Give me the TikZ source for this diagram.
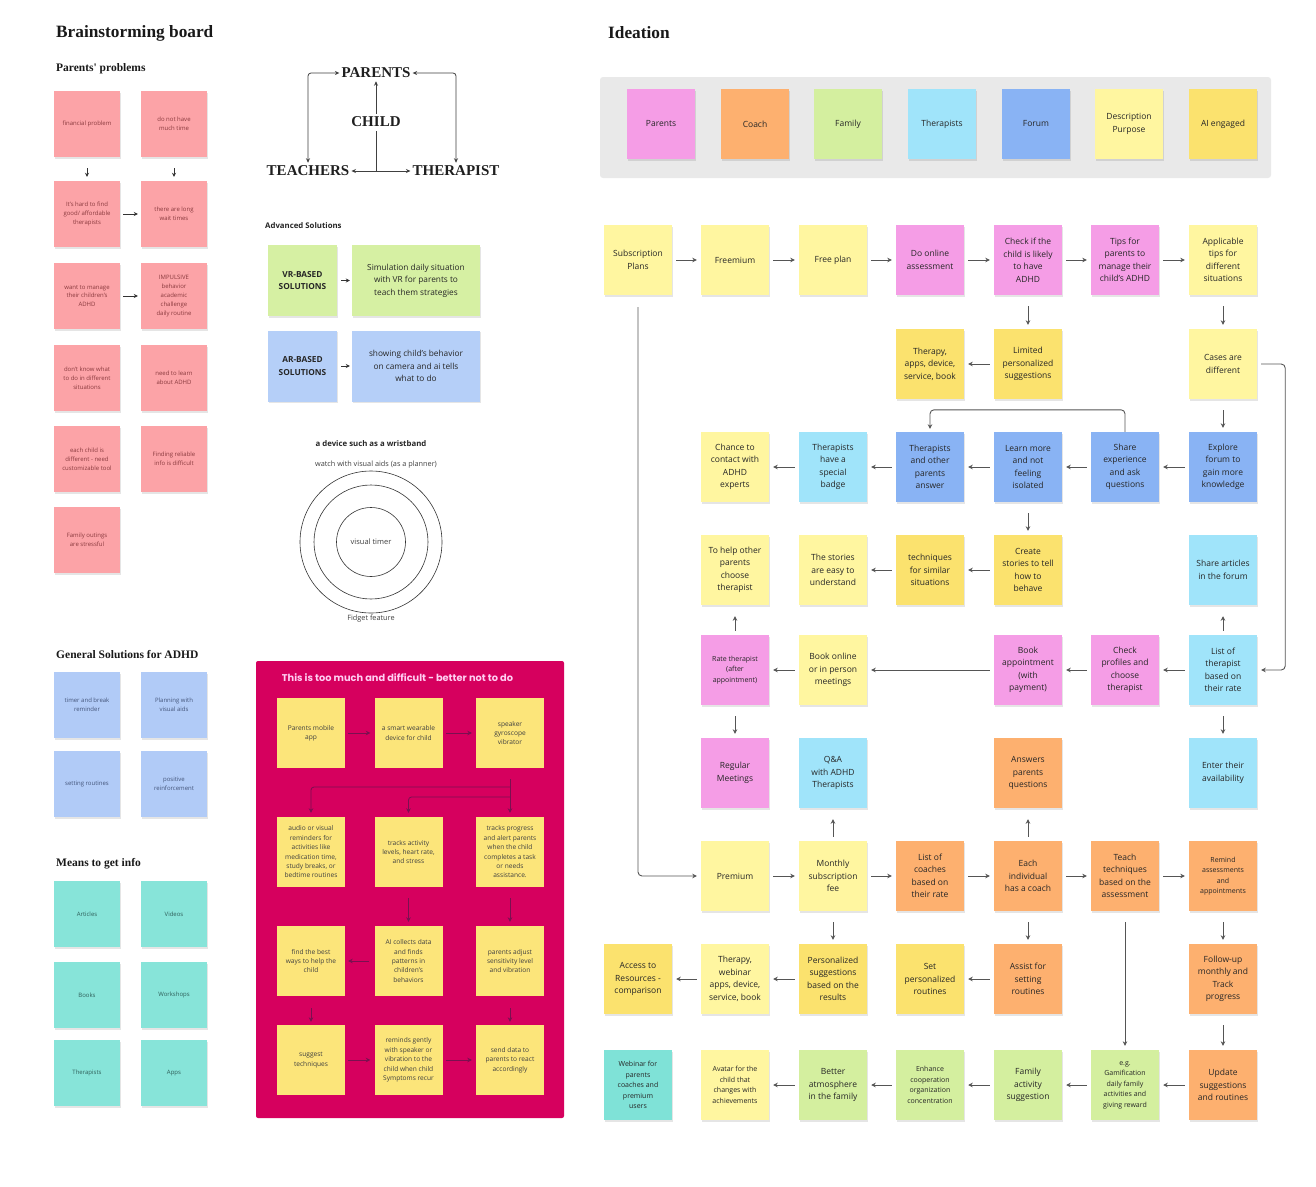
\documentclass[tikz,border=0pt]{standalone}
\usepackage{fontspec}
\setmainfont{Open Sans}
\newfontfamily\serifhead{Liberation Serif}
\newfontfamily\popfont{Poppins}
\usetikzlibrary{arrows.meta,shadows}

\definecolor{cPK}{HTML}{F59DE6}
\definecolor{cLY}{HTML}{FFF6A0}
\definecolor{cYE}{HTML}{FBE26E}
\definecolor{cOR}{HTML}{FDB06F}
\definecolor{cGR}{HTML}{D4EF9F}
\definecolor{cLB}{HTML}{A0E4FA}
\definecolor{cBL}{HTML}{89B3F4}
\definecolor{cTE}{HTML}{7FE2D7}
\definecolor{cGray}{HTML}{E9E9E9}
\definecolor{lPK}{HTML}{FCA3A7}
\definecolor{lPKt}{HTML}{8A3A3E}
\definecolor{lBL}{HTML}{B1CBF7}
\definecolor{lBLt}{HTML}{44557A}
\definecolor{lTE}{HTML}{87E4D9}
\definecolor{lTEt}{HTML}{2F5F5A}
\definecolor{vGR}{HTML}{D6F0A3}
\definecolor{vBL}{HTML}{B5CFF8}
\definecolor{redbox}{HTML}{D6005E}
\definecolor{rYE}{HTML}{FCE57A}
\definecolor{rArr}{HTML}{7A1050}
\definecolor{titlePK}{HTML}{FFCFF2}
\definecolor{arrgray}{HTML}{555555}

\tikzset{
  shad/.style={general shadow={fill=black, opacity=0.10, shadow xshift=0.6pt, shadow yshift=-1.6pt}},
  st/.style={shad, minimum width=68, minimum height=70, inner sep=1pt, align=center, font=\fontsize{8.5}{12.5}\selectfont, text=black!85},
  sm/.style={font=\fontsize{7}{10.5}\selectfont},
  ls/.style={shad, minimum width=66, minimum height=66, inner sep=1pt, align=center, font=\fontsize{6}{8.8}\selectfont},
  lpink/.style={ls, fill=lPK, text=lPKt},
  lblue/.style={ls, fill=lBL, text=lBLt},
  lteal/.style={ls, fill=lTE, text=lTEt},
  rs/.style={minimum width=68, minimum height=70, inner sep=1pt, align=center, font=\fontsize{6.6}{9.4}\selectfont, fill=rYE, text=black!75},
  harr/.style={-{Stealth[length=4.5pt,width=4.5pt]}, draw=arrgray, line width=0.9pt, shorten <=4pt, shorten >=4pt},
  darr/.style={harr, shorten <=11pt, shorten >=4pt},
  uarr/.style={harr, shorten <=4pt, shorten >=11pt},
  larr/.style={-{Stealth[length=4pt,width=4pt]}, draw=black!80, line width=0.8pt, shorten <=3pt, shorten >=3pt},
  marr/.style={draw=black!75, line width=0.8pt},
  mtip/.style={-{Stealth[length=4.5pt,width=4pt]}},
  rarr/.style={-{Stealth[length=4.5pt,width=4.5pt]}, draw=rArr, line width=0.8pt, shorten <=3pt, shorten >=4pt},
  head/.style={anchor=west, inner sep=0pt, font=\serifhead\bfseries\fontsize{17.3}{19}\selectfont, text=black!90},
  subhead/.style={anchor=west, inner sep=0pt, font=\serifhead\bfseries\fontsize{11.5}{13}\selectfont, text=black!90},
  role/.style={inner sep=2pt, font=\serifhead\bfseries\fontsize{15}{16}\selectfont, text=black!88},
  ring/.style={circle, draw=black!80, line width=0.6pt, inner sep=0pt},
  plain/.style={inner sep=0pt, text=black!75},
}

\begin{document}
\begin{tikzpicture}[x=1pt,y=-1pt]
\useasboundingbox (0,0) rectangle (1316,1186);
\fill[white] (0,0) rectangle (1316,1186);

% ================= LEFT: Brainstorming =================
\node[head] (hBrain) at (56,33) {Brainstorming board};
\node[subhead] (hProb) at (56,69) {Parents' problems};

\node[lpink] (pA1) at (87,124) {financial problem};
\node[lpink] (pB1) at (174,124) {do not have\\much time};
\node[lpink] (pA2) at (87,214) {It's hard to find\\good/ affordable\\therapists};
\node[lpink] (pB2) at (174,214) {there are long\\wait times};
\node[lpink] (pA3) at (87,296) {want to manage\\their children's\\ADHD};
\node[lpink] (pB3) at (174,296) {IMPULSIVE\\behavior\\academic\\challenge\\daily routine};
\node[lpink] (pA4) at (87,378) {don't know what\\to do in different\\situations};
\node[lpink] (pB4) at (174,378) {need to learn\\about ADHD};
\node[lpink] (pA5) at (87,459) {each child is\\different - need\\customizable tool};
\node[lpink] (pB5) at (174,459) {Finding reliable\\info is difficult};
\node[lpink] (pA6) at (87,540) {Family outings\\are stressful};

\draw[larr, shorten <=11pt, shorten >=4pt] (pA1) -- (pA2);
\draw[larr, shorten <=11pt, shorten >=4pt] (pB1) -- (pB2);
\draw[larr] (pA2) -- (pB2);
\draw[larr] (pA3) -- (pB3);

\node[subhead] (hGen) at (56,655) {General Solutions for ADHD};
\node[lblue] (gA1) at (87,705) {timer and break\\reminder};
\node[lblue] (gB1) at (174,705) {Planning with\\visual aids};
\node[lblue] (gA2) at (87,784) {setting routines};
\node[lblue] (gB2) at (174,784) {positive\\reinforcement};

\node[subhead] (hMeans) at (56,864) {Means to get info};
\node[lteal] (mA1) at (87,914) {Articles};
\node[lteal] (mB1) at (174,914) {Videos};
\node[lteal] (mA2) at (87,995) {Books};
\node[lteal] (mB2) at (174,995) {Workshops};
\node[lteal] (mA3) at (87,1073) {Therapists};
\node[lteal] (mB3) at (174,1073) {Apps};

% ================= MIDDLE: roles =================
\node[role] (parents) at (376,73) {PARENTS};
\node[role] (child) at (376,122) {CHILD};
\node[role] (teachers) at (308,171) {TEACHERS};
\node[role] (therapist) at (456,171) {THERAPIST};
\coordinate (junc) at (376,171);
\draw[marr, mtip, shorten <=1pt, shorten >=1pt] (child.north) -- (parents.south);
\draw[marr, shorten <=2pt] (child.south) -- (junc);
\draw[marr, mtip] (junc) -- (teachers.east);
\draw[marr, mtip] (junc) -- (therapist.west);
\draw[marr, {Stealth[length=4.5pt,width=4pt]}-{Stealth[length=4.5pt,width=4pt]}, rounded corners=3pt, shorten >=1pt] (parents.west) -| (teachers.north);
\draw[marr, {Stealth[length=4.5pt,width=4pt]}-{Stealth[length=4.5pt,width=4pt]}, rounded corners=3pt, shorten >=1pt] (parents.east) -| (therapist.north);

% Advanced solutions
\node[anchor=west, inner sep=0pt, font=\bfseries\fontsize{7.8}{9}\selectfont, text=black!85] (hAdv) at (265,226) {Advanced Solutions};
\node[st, fill=vGR, minimum width=69, minimum height=71, font=\bfseries\fontsize{8.3}{12.5}\selectfont] (vr) at (302.5,280.5) {VR-BASED\\SOLUTIONS};
\node[st, fill=vGR, minimum width=128, minimum height=71, font=\fontsize{8.3}{12.5}\selectfont] (vrsim) at (416,280.5) {Simulation daily situation\\with VR for parents to\\teach them strategies};
\node[st, fill=vBL, minimum width=69, minimum height=71, font=\bfseries\fontsize{8.3}{12.5}\selectfont] (ar) at (302.5,366) {AR-BASED\\SOLUTIONS};
\node[st, fill=vBL, minimum width=128, minimum height=71, font=\fontsize{8.3}{12.5}\selectfont] (arsim) at (416,366) {showing child's behavior\\on camera and ai tells\\what to do};
\draw[larr, shorten <=4pt, shorten >=2pt] (vr) -- (vrsim);
\draw[larr, shorten <=4pt, shorten >=2pt] (ar) -- (arsim);

% Wristband
\node[plain, font=\bfseries\fontsize{7.8}{9}\selectfont, text=black!85] (hDev) at (371,444) {a device such as a wristband};
\node[plain, font=\fontsize{7.3}{9}\selectfont] (watch) at (376,465) {watch with visual aids (as a planner)};
\node[ring, minimum size=142] (ring1) at (371,542) {};
\node[ring, minimum size=114] (ring2) at (371,542) {};
\node[ring, minimum size=69, font=\fontsize{7.5}{9}\selectfont, text=black!75] (ring3) at (371,542) {visual timer};
\node[plain, font=\fontsize{7.3}{9}\selectfont] (fidget) at (371,619) {Fidget feature};

% Red box
\node[fill=redbox, rounded corners=2pt, minimum width=308, minimum height=457, inner sep=0pt] (redbox) at (410,889.5) {};
\node[inner sep=0pt, font=\popfont\bfseries\fontsize{9.8}{11}\selectfont, text=titlePK] (rtitle) at (397.5,678) {This is too much and difficult - better not to do};
\node[rs] (r11) at (311,733) {Parents mobile\\app};
\node[rs] (r12) at (408.5,733) {a smart wearable\\device for child};
\node[rs] (r13) at (510,733) {speaker\\gyroscope\\vibrator};
\node[rs] (r21) at (311,852) {audio or visual\\reminders for\\activities like\\medication time,\\study breaks, or\\bedtime routines};
\node[rs] (r22) at (408.5,852) {tracks activity\\levels, heart rate,\\and stress};
\node[rs] (r23) at (510,852) {tracks progress\\and alert parents\\when the child\\completes a task\\or needs\\assistance.};
\node[rs] (r31) at (311,961) {find the best\\ways to help the\\child};
\node[rs] (r32) at (408.5,961) {AI collects data\\and finds\\patterns in\\children's\\behaviors};
\node[rs] (r33) at (510,961) {parents adjust\\sensitivity level\\and vibration};
\node[rs] (r41) at (311,1060) {suggest\\techniques};
\node[rs] (r42) at (408.5,1060) {reminds gently\\with speaker or\\vibration to the\\child when child\\Symptoms recur};
\node[rs] (r43) at (510,1060) {send data to\\parents to react\\accordingly};
\coordinate (rb1) at (510,787);
\coordinate (rb2) at (510,797);
\draw[rarr] (r11) -- (r12);
\draw[rarr] (r12) -- (r13);
\draw[rarr, shorten <=11pt] (r13) -- (r23);
\draw[rarr, rounded corners=3pt, shorten <=0pt] (rb1) -| (r21.north);
\draw[rarr, rounded corners=3pt, shorten <=0pt] (rb2) -| (r22.north);
\draw[rarr, shorten <=11pt] (r22) -- (r32);
\draw[rarr, shorten <=11pt] (r23) -- (r33);
\draw[rarr, shorten <=5pt, shorten >=3pt] (r32) -- (r31);
\draw[rarr, shorten <=12pt, shorten >=3pt] (r31) -- (r41);
\draw[rarr, shorten <=12pt, shorten >=3pt] (r33) -- (r43);
\draw[rarr] (r41) -- (r42);
\draw[rarr] (r42) -- (r43);

% ================= RIGHT: Ideation =================
\node[head] (hIdea) at (608,33) {Ideation};
\node[fill=cGray, rounded corners=3pt, minimum width=671, minimum height=101, inner sep=0pt] (hdrbox) at (935.5,127.5) {};
\node[st, fill=cPK] (kParents) at (661,124) {Parents};
\node[st, fill=cOR] (kCoach) at (755,124) {Coach};
\node[st, fill=cGR] (kFamily) at (848,124) {Family};
\node[st, fill=cLB] (kTher) at (942,124) {Therapists};
\node[st, fill=cBL] (kForum) at (1036,124) {Forum};
\node[st, fill=cLY] (kDesc) at (1129,124) {Description\\Purpose};
\node[st, fill=cYE] (kAI) at (1223,124) {AI engaged};

% Row 1
\node[st, fill=cLY] (subs) at (638,260) {Subscription\\Plans};
\node[st, fill=cLY] (freemium) at (735,260) {Freemium};
\node[st, fill=cLY] (freeplan) at (833,260) {Free plan};
\node[st, fill=cPK] (online) at (930,260) {Do online\\assessment};
\node[st, fill=cPK] (check) at (1028,260) {Check if the\\child is likely\\to have\\ADHD};
\node[st, fill=cPK] (tips) at (1125,260) {Tips for\\parents to\\manage their\\child's ADHD};
\node[st, fill=cLY] (applic) at (1223,260) {Applicable\\tips for\\different\\situations};
% Row 2
\node[st, fill=cYE] (therapyA) at (930,364) {Therapy,\\apps, device,\\service, book};
\node[st, fill=cYE] (limited) at (1028,364) {Limited\\personalized\\suggestions};
\node[st, fill=cLY] (cases) at (1223,364) {Cases are\\different};
% Row 3
\node[st, fill=cLY] (chance) at (735,467) {Chance to\\contact with\\ADHD\\experts};
\node[st, fill=cLB] (badge) at (833,467) {Therapists\\have a\\special\\badge};
\node[st, fill=cBL] (thother) at (930,467) {Therapists\\and other\\parents\\answer};
\node[st, fill=cBL] (learn) at (1028,467) {Learn more\\and not\\feeling\\isolated};
\node[st, fill=cBL] (share) at (1125,467) {Share\\experience\\and ask\\questions};
\node[st, fill=cBL] (explore) at (1223,467) {Explore\\forum to\\gain more\\knowledge};
% Row 4
\node[st, fill=cLY] (tohelp) at (735,570) {To help other\\parents\\choose\\therapist};
\node[st, fill=cLY] (stories) at (833,570) {The stories\\are easy to\\understand};
\node[st, fill=cYE] (techniques) at (930,570) {techniques\\for similar\\situations};
\node[st, fill=cYE] (create) at (1028,570) {Create\\stories to tell\\how to\\behave};
\node[st, fill=cLB] (articles) at (1223,570) {Share articles\\in the forum};
% Row 5
\node[st, sm, fill=cPK] (rate) at (735,670) {Rate therapist\\(after\\appointment)};
\node[st, fill=cLY] (bookonline) at (833,670) {Book online\\or in person\\meetings};
\node[st, fill=cPK] (bookappt) at (1028,670) {Book\\appointment\\(with\\payment)};
\node[st, fill=cPK] (profiles) at (1125,670) {Check\\profiles and\\choose\\therapist};
\node[st, fill=cLB] (listther) at (1223,670) {List of\\therapist\\based on\\their rate};
% Row 6
\node[st, fill=cPK] (regular) at (735,773) {Regular\\Meetings};
\node[st, fill=cLB] (qa) at (833,773) {Q\&A\\with ADHD\\Therapists};
\node[st, fill=cOR] (answers) at (1028,773) {Answers\\parents\\questions};
\node[st, fill=cLB] (enter) at (1223,773) {Enter their\\availability};
% Row 7
\node[st, fill=cLY] (premium) at (735,876) {Premium};
\node[st, fill=cLY] (monthly) at (833,876) {Monthly\\subscription\\fee};
\node[st, fill=cOR] (coaches) at (930,876) {List of\\coaches\\based on\\their rate};
\node[st, fill=cOR] (each) at (1028,876) {Each\\individual\\has a coach};
\node[st, fill=cOR] (teach) at (1125,876) {Teach\\techniques\\based on the\\assessment};
\node[st, sm, fill=cOR] (remind) at (1223,876) {Remind\\assessments\\and\\appointments};
% Row 8
\node[st, fill=cYE] (access) at (638,979) {Access to\\Resources -\\comparison};
\node[st, fill=cLY] (therapyB) at (735,979) {Therapy,\\webinar\\apps, device,\\service, book};
\node[st, fill=cYE] (persugg) at (833,979) {Personalized\\suggestions\\based on the\\results};
\node[st, fill=cYE] (setroutines) at (930,979) {Set\\personalized\\routines};
\node[st, fill=cOR] (assist) at (1028,979) {Assist for\\setting\\routines};
\node[st, fill=cOR] (followup) at (1223,979) {Follow-up\\monthly and\\Track\\progress};
% Row 9
\node[st, sm, fill=cTE] (webinar) at (638,1085) {Webinar for\\parents\\coaches and\\premium\\users};
\node[st, sm, fill=cLY] (avatar) at (735,1085) {Avatar for the\\child that\\changes with\\achievements};
\node[st, fill=cGR] (better) at (833,1085) {Better\\atmosphere\\in the family};
\node[st, sm, fill=cGR] (enhance) at (930,1085) {Enhance\\cooperation\\organization\\concentration};
\node[st, fill=cGR] (family) at (1028,1085) {Family\\activity\\suggestion};
\node[st, sm, fill=cGR] (gamif) at (1125,1085) {e.g.\\Gamification\\daily family\\activities and\\giving reward};
\node[st, fill=cOR] (update) at (1223,1085) {Update\\suggestions\\and routines};

% Ideation connectors
\draw[harr] (subs) -- (freemium);
\draw[harr] (freemium) -- (freeplan);
\draw[harr] (freeplan) -- (online);
\draw[harr] (online) -- (check);
\draw[harr] (check) -- (tips);
\draw[harr] (tips) -- (applic);
\draw[darr] (check) -- (limited);
\draw[harr] (limited) -- (therapyA);
\draw[darr] (applic) -- (cases);
\draw[darr] (cases) -- (explore);
\draw[harr, rounded corners=4pt] (cases.east) -- ++(28,0) |- (listther.east);

\draw[harr] (explore) -- (share);
\draw[harr] (share) -- (learn);
\draw[harr] (learn) -- (thother);
\draw[harr] (thother) -- (badge);
\draw[harr] (badge) -- (chance);
\draw[harr, rounded corners=4pt, shorten <=0pt, shorten >=3pt] (share.north) -- ++(0,-22) -| (thother.north);
\draw[darr] (learn) -- (create);

\draw[harr] (create) -- (techniques);
\draw[harr] (techniques) -- (stories);
\draw[uarr] (listther) -- (articles);
\draw[uarr] (rate) -- (tohelp);

\draw[harr] (listther) -- (profiles);
\draw[harr] (profiles) -- (bookappt);
\draw[harr] (bookappt) -- (bookonline);
\draw[harr] (bookonline) -- (rate);
\draw[darr] (rate) -- (regular);
\draw[darr] (listther) -- (enter);

\draw[uarr] (monthly) -- (qa);
\draw[uarr] (each) -- (answers);

\draw[harr, rounded corners=4pt, shorten <=12pt] (subs.south) |- (premium.west);
\draw[harr] (premium) -- (monthly);
\draw[harr] (monthly) -- (coaches);
\draw[harr] (coaches) -- (each);
\draw[harr] (each) -- (teach);
\draw[harr] (teach) -- (remind);

\draw[darr] (monthly) -- (persugg);
\draw[darr] (each) -- (assist);
\draw[darr] (remind) -- (followup);
\draw[darr] (teach) -- (gamif);

\draw[harr] (persugg) -- (therapyB);
\draw[harr] (therapyB) -- (access);
\draw[harr] (assist) -- (setroutines);
\draw[darr] (followup) -- (update);

\draw[harr] (update) -- (gamif);
\draw[harr] (gamif) -- (family);
\draw[harr] (family) -- (enhance);
\draw[harr] (enhance) -- (better);
\draw[harr] (better) -- (avatar);
\end{tikzpicture}
\end{document}
